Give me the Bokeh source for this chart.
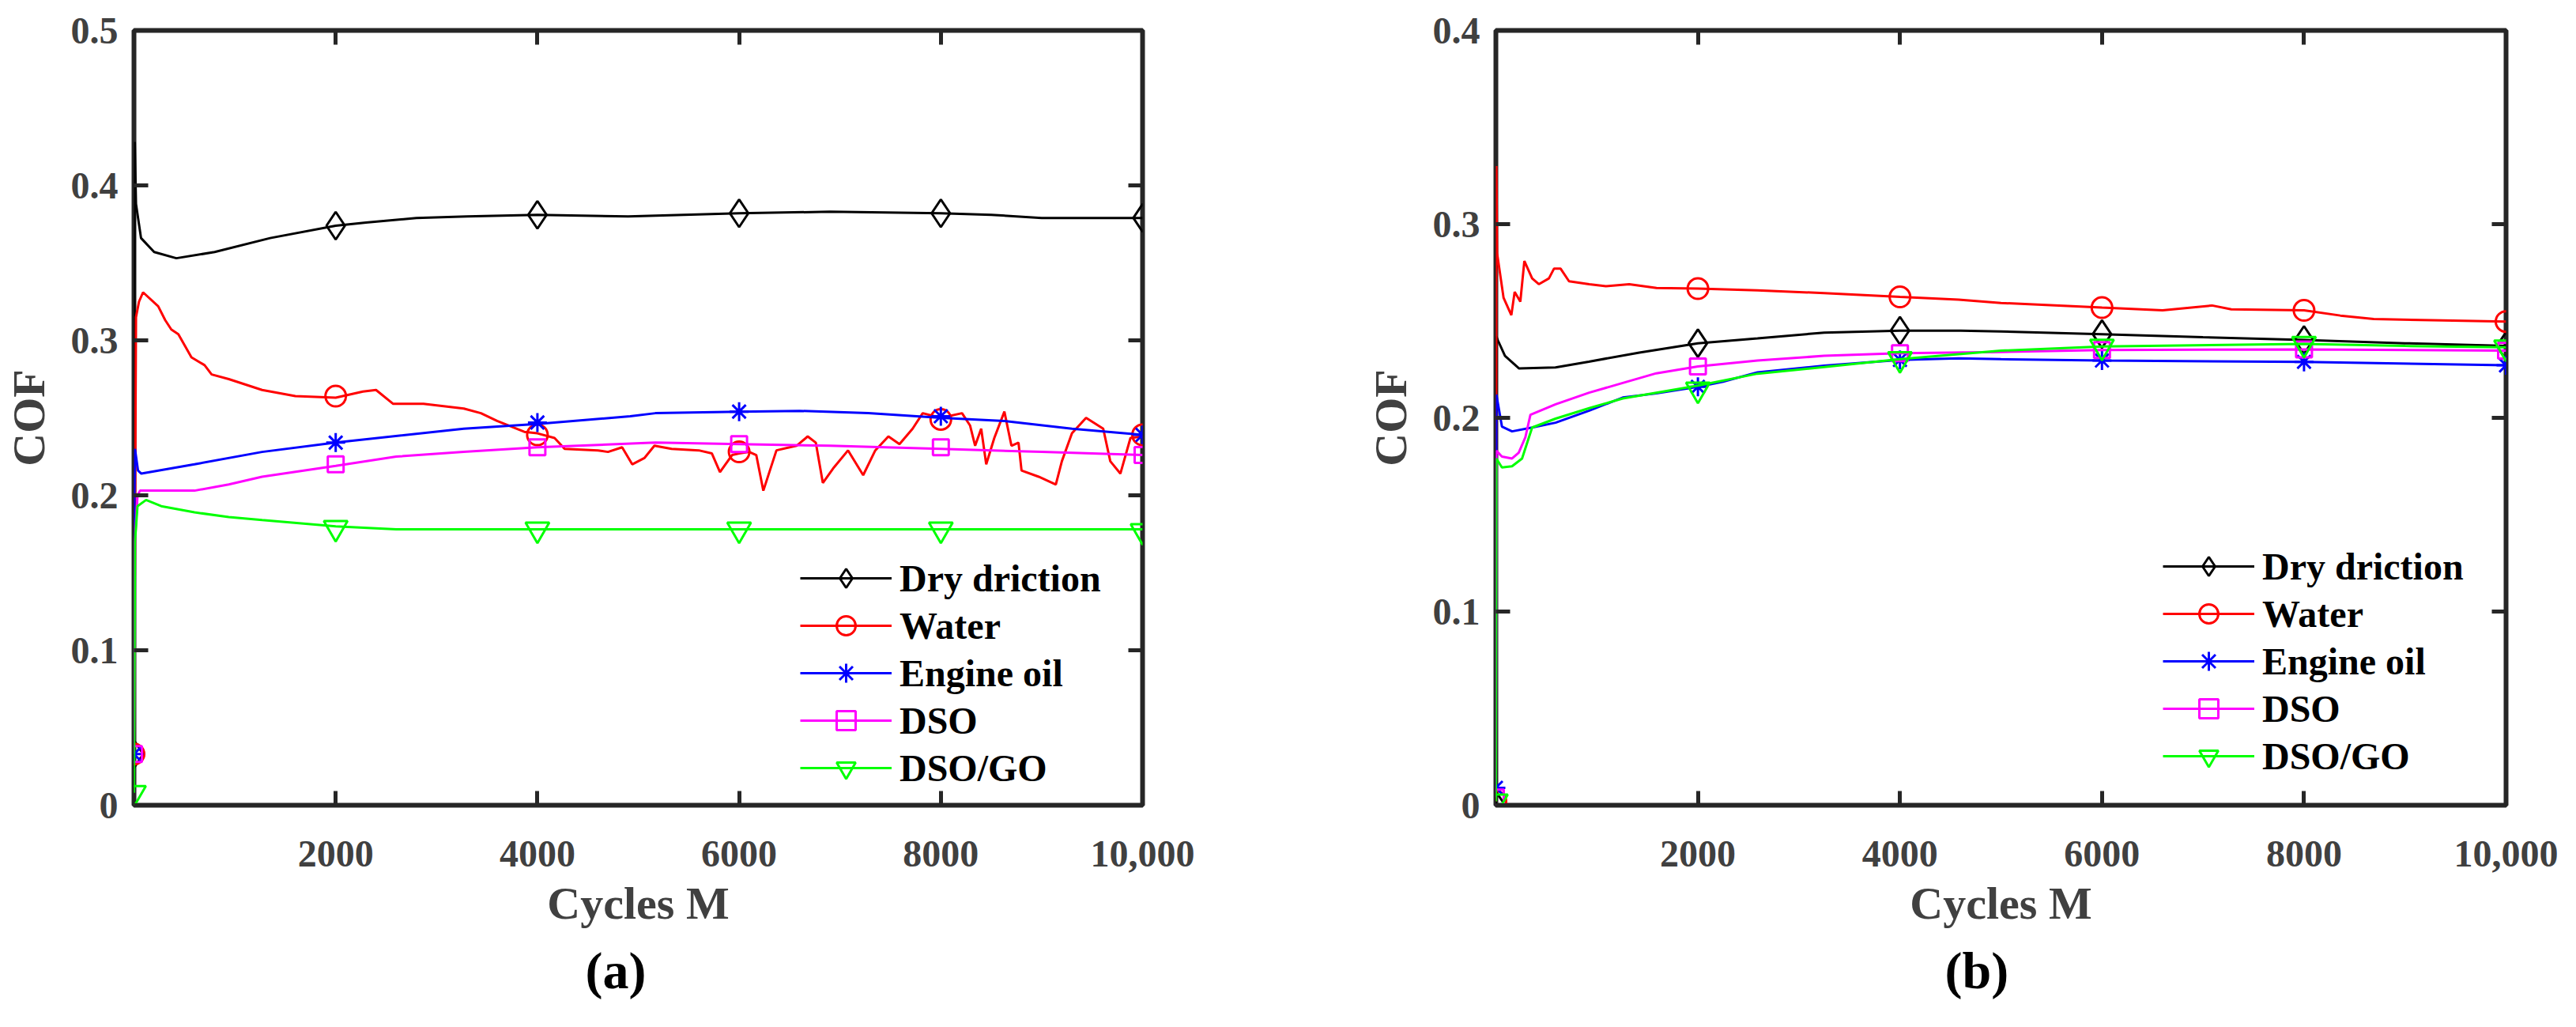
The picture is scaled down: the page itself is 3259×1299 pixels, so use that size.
"""COF vs cycles for five lubrication conditions, panels (a) and (b)."""

from bokeh.plotting import figure
from bokeh.layouts import row
from bokeh.models import (FixedTicker, LinearAxis, CustomJSTickFormatter,
                          Legend, LegendItem, Title)
from bokeh.embed import file_html
from bokeh.resources import INLINE

# Prepare the data
x_ticks = [2000, 4000, 6000, 8000, 10000]
x_tick_labels = {2000: "2000", 4000: "4000", 6000: "6000", 8000: "8000", 10000: "10,000"}
y_ticks_a = [0, 0.1, 0.2, 0.3, 0.4, 0.5]
y_ticks_b = [0, 0.1, 0.2, 0.3, 0.4]
names = ["Dry driction", "Water", "Engine oil", "DSO", "DSO/GO"]
colors = ["#000000", "#ff0000", "#0000ff", "#ff00ff", "#00ff00"]
markers = ["diamond", "circle", "asterisk", "square", "inverted_triangle"]
marker_sizes = [35, 26, 24, 20, 30]
marker_x = [0, 2000, 4000, 6000, 8000, 10000]

# panel (a)
dry_a_x = [0, 3, 8, 20, 70, 200, 420, 800, 1350, 2000, 2300, 2800, 3300, 4000, 4900, 6000, 6900, 8000, 8500, 9000, 10000]
dry_a_y = [0.033, 0.30, 0.428, 0.388, 0.366, 0.357, 0.353, 0.357, 0.366, 0.374, 0.376, 0.379, 0.380, 0.381, 0.380, 0.382, 0.383, 0.382, 0.381, 0.379, 0.379]
water_a_x = [0, 20, 50, 90, 240, 310, 370, 440, 570, 700,
             770, 940, 1270, 1600, 2000, 2270, 2400, 2570, 2870, 3270,
             3440, 3600, 3870, 4000, 4170, 4270, 4600, 4700, 4840, 4940,
             5060, 5160, 5330, 5600, 5730, 5810, 5930, 6000, 6100, 6170,
             6240, 6370, 6570, 6680, 6760, 6830, 6940, 7080, 7230, 7350,
             7480, 7590, 7720, 7820, 8000, 8210, 8290, 8340, 8400, 8450,
             8530, 8630, 8700, 8770, 8800, 8970, 9140, 9200, 9300, 9440,
             9610, 9680, 9780, 9880, 10000]
water_a_y = [0.033, 0.315, 0.325, 0.331, 0.322, 0.313, 0.307, 0.304, 0.289, 0.284,
             0.278, 0.275, 0.268, 0.264, 0.263, 0.267, 0.268, 0.259, 0.259, 0.256,
             0.253, 0.248, 0.241, 0.240, 0.237, 0.230, 0.229, 0.228, 0.231, 0.220,
             0.224, 0.232, 0.230, 0.229, 0.227, 0.215, 0.226, 0.227, 0.228, 0.226,
             0.203, 0.229, 0.232, 0.238, 0.234, 0.208, 0.218, 0.229, 0.213, 0.229,
             0.238, 0.233, 0.243, 0.253, 0.250, 0.253, 0.245, 0.232, 0.243, 0.220,
             0.237, 0.254, 0.232, 0.234, 0.216, 0.212, 0.207, 0.222, 0.240, 0.250,
             0.243, 0.222, 0.214, 0.237, 0.238]
oil_a_x = [0, 5, 10, 40, 73, 600, 1270, 2000, 3270, 4000, 4920, 5170, 6000, 6600, 7280, 8000, 8630, 9300, 10000]
oil_a_y = [0.033, 0.20, 0.230, 0.216, 0.214, 0.220, 0.228, 0.234, 0.243, 0.246, 0.251, 0.253, 0.254, 0.2545, 0.253, 0.250, 0.248, 0.243, 0.239]
dso_a_x = [0, 10, 35, 60, 600, 940, 1270, 2000, 2600, 3270, 4000, 5170, 6000, 6900, 8000, 9000, 10000]
dso_a_y = [0.033, 0.17, 0.200, 0.203, 0.203, 0.207, 0.212, 0.219, 0.225, 0.228, 0.231, 0.234, 0.233, 0.232, 0.230, 0.228, 0.226]
go_a_x = [0, 10, 35, 120, 270, 600, 940, 1270, 2000, 2600, 4000, 6000, 8000, 10000]
go_a_y = [0.008, 0.17, 0.193, 0.197, 0.193, 0.189, 0.186, 0.184, 0.180, 0.178, 0.178, 0.178, 0.178, 0.178]

dry_a_mk = [0.033, 0.374, 0.381, 0.382, 0.382, 0.379]
water_a_mk = [0.033, 0.264, 0.239, 0.228, 0.249, 0.239]
oil_a_mk = [0.033, 0.234, 0.247, 0.254, 0.251, 0.239]
dso_a_mk = [0.033, 0.220, 0.231, 0.233, 0.231, 0.226]
go_a_mk = [0.008, 0.179, 0.178, 0.178, 0.178, 0.177]

# panel (b)
dry_b_x = [0, 5, 20, 90, 230, 590, 920, 1420, 2000, 2590, 3250, 4000, 4600, 5000, 6000, 7000, 8000, 9000, 10000]
dry_b_y = [0.0, 0.242, 0.240, 0.232, 0.2255, 0.226, 0.229, 0.2337, 0.2385, 0.241, 0.244, 0.245, 0.245, 0.2446, 0.2432, 0.2416, 0.2402, 0.2385, 0.2371]
water_b_x = [0, 5, 12, 76, 153, 186, 242, 282, 359, 425,
             525, 575, 641, 724, 924, 1090, 1320, 1590, 2000, 2590,
             3250, 4000, 4580, 5000, 6000, 6600, 7090, 7280, 8000, 8360,
             8690, 9370, 10000]
water_b_y = [0.002, 0.33, 0.285, 0.262, 0.253, 0.265, 0.260, 0.281, 0.272, 0.269,
             0.272, 0.277, 0.277, 0.2705, 0.269, 0.268, 0.269, 0.267, 0.2667, 0.2658,
             0.2644, 0.2624, 0.261, 0.2593, 0.2569, 0.2555, 0.258, 0.256, 0.2555, 0.2528,
             0.251, 0.2503, 0.2497]
oil_b_x = [0, 5, 60, 160, 359, 591, 924, 1256, 1588, 2000, 2250, 2590, 3250, 4000, 4580, 5000, 6000, 8000, 10000]
oil_b_y = [0.009, 0.212, 0.1955, 0.193, 0.195, 0.1975, 0.2037, 0.2105, 0.2126, 0.216, 0.2187, 0.2235, 0.2269, 0.2299, 0.2307, 0.2303, 0.2296, 0.2289, 0.2271]
dso_b_x = [0, 5, 60, 160, 226, 292, 342, 591, 924, 1256, 1588, 2000, 2590, 3250, 4000, 5000, 6000, 8000, 10000]
dso_b_y = [0.004, 0.183, 0.180, 0.179, 0.182, 0.190, 0.2016, 0.207, 0.213, 0.218, 0.223, 0.2265, 0.2296, 0.232, 0.2334, 0.234, 0.235, 0.2353, 0.2347]
go_b_x = [0, 5, 60, 160, 259, 359, 591, 924, 1256, 1588, 2000, 2590, 3250, 4000, 5000, 6000, 8000, 9000, 10000]
go_b_y = [0.002, 0.179, 0.1744, 0.175, 0.179, 0.195, 0.1996, 0.205, 0.21, 0.213, 0.2166, 0.2228, 0.2262, 0.2303, 0.2347, 0.2368, 0.2382, 0.2371, 0.2364]

dry_b_mk = [0.0, 0.2385, 0.245, 0.2432, 0.2402, 0.2371]
water_b_mk = [0.002, 0.2667, 0.2624, 0.2569, 0.2555, 0.2497]
oil_b_mk = [0.009, 0.216, 0.2299, 0.2296, 0.2289, 0.2271]
dso_b_mk = [0.004, 0.2265, 0.2334, 0.235, 0.2353, 0.2347]
go_b_mk = [0.002, 0.2146, 0.2303, 0.2368, 0.2382, 0.2364]

FONT = "Liberation Serif"
GRAY = "#404040"
BOX = "#262626"


def make_panel(series, marks, y_ticks, y_max, border_left, border_right, width,
               legend_loc, caption, caption_offset):
    p = figure(width=width, height=1283, x_range=(0, 10000), y_range=(0, y_max),
               output_backend="svg", toolbar_location=None,
               min_border_left=border_left, min_border_right=border_right,
               min_border_top=38, min_border_bottom=265,
               x_axis_label="Cycles M", y_axis_label="COF")
    p.xgrid.visible = False
    p.ygrid.visible = False
    p.outline_line_color = BOX
    p.outline_line_width = 6
    p.background_fill_color = "white"
    p.border_fill_color = "white"

    # main axes: ticks point inward, MATLAB style
    p.xaxis.ticker = FixedTicker(ticks=x_ticks)
    p.xaxis.major_label_overrides = x_tick_labels
    p.yaxis.ticker = FixedTicker(ticks=y_ticks)
    p.yaxis.major_label_overrides = {t: ("0" if t == 0 else str(t)) for t in y_ticks}
    for ax in (p.xaxis[0], p.yaxis[0]):
        ax.axis_line_color = None
        ax.major_tick_in = 18
        ax.major_tick_out = 0
        ax.major_tick_line_width = 5
        ax.major_tick_line_color = BOX
        ax.minor_tick_line_color = None
        ax.major_label_text_font = FONT
        ax.major_label_text_font_style = "bold"
        ax.major_label_text_font_size = "48px"
        ax.major_label_text_color = GRAY
        ax.axis_label_text_font = FONT
        ax.axis_label_text_font_style = "bold"
        ax.axis_label_text_font_size = "58px"
        ax.axis_label_text_color = GRAY
    p.xaxis.major_label_standoff = 45
    p.xaxis.axis_label_standoff = 11
    p.yaxis.major_label_standoff = 20
    p.yaxis.axis_label_standoff = 18

    # tick marks on the top and right sides of the box
    blank = CustomJSTickFormatter(code="return ''")
    top = LinearAxis(ticker=FixedTicker(ticks=x_ticks), formatter=blank)
    right = LinearAxis(ticker=FixedTicker(ticks=y_ticks), formatter=blank)
    for ax in (top, right):
        ax.axis_line_color = None
        ax.major_tick_in = 18
        ax.major_tick_out = 0
        ax.major_tick_line_width = 5
        ax.major_tick_line_color = BOX
        ax.minor_tick_line_color = None
        ax.major_label_standoff = 0
    p.add_layout(top, "above")
    p.add_layout(right, "right")

    items = []
    for i, (xs, ys) in enumerate(series):
        ln = p.line(xs, ys, line_color=colors[i], line_width=3)
        mk = p.scatter(marker_x, marks[i], marker=markers[i], size=marker_sizes[i],
                       fill_color=None, line_color=colors[i], line_width=3)
        items.append(LegendItem(label=names[i], renderers=[ln, mk]))

    legend = Legend(items=items, location=legend_loc,
                    border_line_color=None, background_fill_alpha=0,
                    label_text_font=FONT, label_text_font_style="bold",
                    label_text_font_size="48px", label_text_color="black",
                    glyph_width=116, glyph_height=60, label_height=60,
                    spacing=0, padding=0, margin=0, label_standoff=10)
    p.add_layout(legend)

    # sub-figure caption under the x axis label
    p.add_layout(Title(text=caption, align="left", offset=caption_offset,
                       standoff=22, text_font=FONT, text_font_style="bold",
                       text_font_size="66px", text_color="black"), "below")
    return p


series_a = [(dry_a_x, dry_a_y), (water_a_x, water_a_y), (oil_a_x, oil_a_y),
            (dso_a_x, dso_a_y), (go_a_x, go_a_y)]
marks_a = [dry_a_mk, water_a_mk, oil_a_mk, dso_a_mk, go_a_mk]
series_b = [(dry_b_x, dry_b_y), (water_b_x, water_b_y), (oil_b_x, oil_b_y),
            (dso_b_x, dso_b_y), (go_b_x, go_b_y)]
marks_b = [dry_b_mk, water_b_mk, oil_b_mk, dso_b_mk, go_b_mk]

p_a = make_panel(series_a, marks_a, y_ticks_a, 0.5, 167, 185, 1630,
                 (843, 17), "(a)", 571)
p_b = make_panel(series_b, marks_b, y_ticks_b, 0.4, 262, 73, 1613,
                 (844, 32), "(b)", 568)

layout = row(p_a, p_b)
open("out.html", "w").write(file_html(layout, INLINE))
